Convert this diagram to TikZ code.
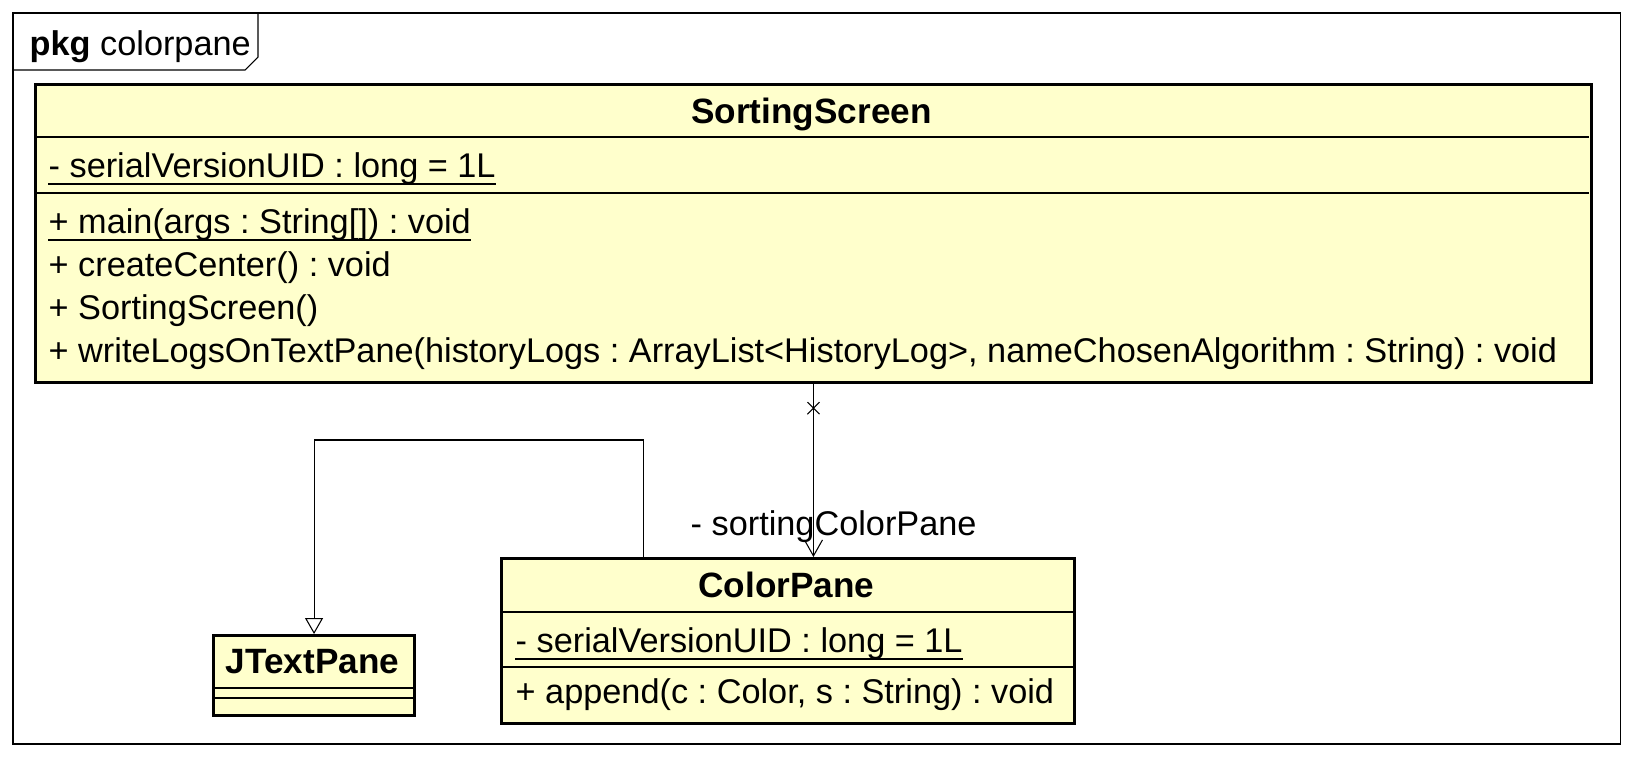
\documentclass[tikz,border=0pt]{standalone}
\usepackage{fontspec}
\setmainfont{Liberation Sans}
\usetikzlibrary{positioning,arrows.meta,shapes.misc}
\definecolor{classfill}{RGB}{255,255,204}
\frenchspacing
\tikzset{
	umlbox/.style={draw, line width=0.85pt, fill=classfill, inner sep=0pt, anchor=north west},
	member/.style={anchor=base west, inner sep=0pt},
	classname/.style={anchor=base, inner sep=0pt, font=\bfseries},
	thinline/.style={line width=0.3pt},
	xmark/.style={cross out, draw, thinline, minimum size=0.11cm, inner sep=0pt},
}
\newcommand{\ul}[1]{\draw[thinline] ([yshift=-0.07cm]#1.base west) -- ([yshift=-0.07cm]#1.base east);}

\begin{document}
\begin{tikzpicture}[x=0.01cm,y=-0.01cm,font=\fontsize{9.75}{11.7}\selectfont]
		\useasboundingbox (0,0) rectangle (1634,757);
		% package frame
		\draw[thinline] (13,13) rectangle (1620,744);
		\draw[thinline] (13,70) -- (245,70) -- (258,57) -- (258,13);
		\node[member] (pkg) at (29,55) {\textbf{pkg} colorpane};
		% SortingScreen
		\node[umlbox, minimum width=15.55cm, minimum height=2.98cm] (ss) at (34,83) {};
		\draw[thinline] (34,137) -- (1589,137);
		\draw[thinline] (34,193) -- (1589,193);
		\node[classname] (ssname) at (811.5,123) {SortingScreen};
		\node[member] (ssattr) at (48,177) {- serialVersionUID : long = 1L};
		\ul{ssattr}
		\node[member] (ssmain) at (48,233) {+ main(args : String[]) : void};
		\ul{ssmain}
		\node[member] (sscenter) at (48,276) {+ createCenter() : void};
		\node[member] (ssctor) at (48,319) {+ SortingScreen()};
		\node[member] (sslogs) at (48,362) {+ writeLogsOnTextPane(historyLogs : ArrayList<HistoryLog>, nameChosenAlgorithm : String) : void};
		% ColorPane
		\node[umlbox, minimum width=5.73cm, minimum height=1.65cm] (cp) at (500,557) {};
		\draw[thinline] (500,612) -- (1073,612);
		\draw[thinline] (500,667) -- (1073,667);
		\node[classname] (cpname) at (786.5,597) {ColorPane};
		\node[member] (cpattr) at (515,652) {- serialVersionUID : long = 1L};
		\ul{cpattr}
		\node[member] (cpappend) at (515,703) {+ append(c : Color, s : String) : void};
		% JTextPane
		\node[umlbox, minimum width=2.01cm, minimum height=0.8cm] (jt) at (212,634) {};
		\draw[thinline] (212,688) -- (413,688);
		\draw[thinline] (212,698) -- (413,698);
		\node[classname] (jtname) at (312.5,673) {JTextPane};
		% connectors
		\draw[thinline, -{Triangle[open, length=0.16cm, width=0.18cm]}] ([xshift=1.43cm]cp.north west) -- ++(0,-117) -| (jt.north);
		\draw[thinline, -{Straight Barb[length=0.16cm, width=0.18cm]}] (ss.south) -- (ss.south |- cp.north);
		\node[xmark] (nav) at ([yshift=-0.24cm]ss.south) {};
		\node[member] (role) at (690,535) {- sortingColorPane};
\end{tikzpicture}
\end{document}
